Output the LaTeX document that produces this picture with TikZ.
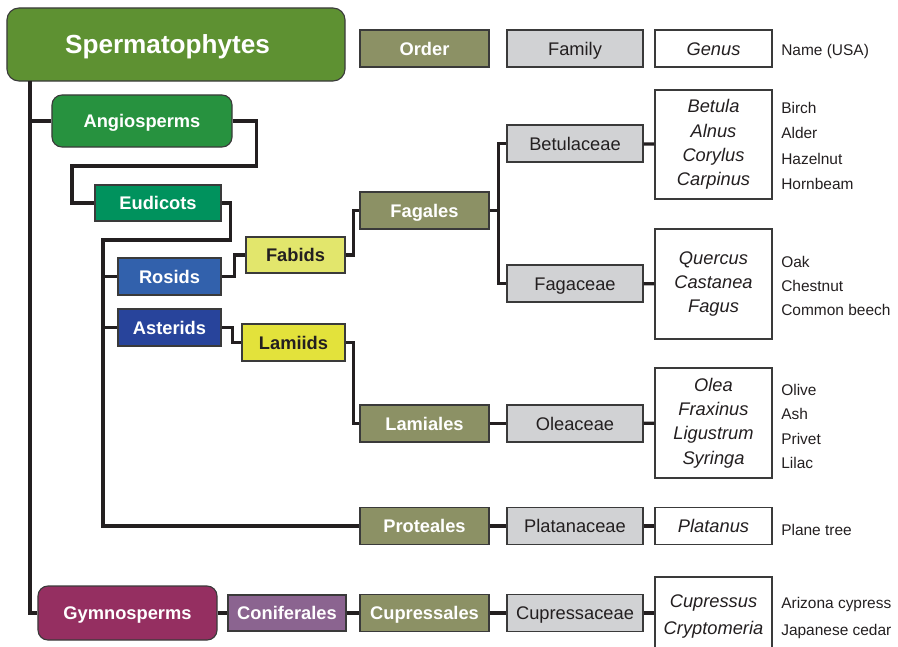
\documentclass[tikz,border=0pt]{standalone}
\usepackage{fontspec}
\setmainfont{Liberation Sans}

\definecolor{spermcol}{HTML}{5E9132}
\definecolor{angiocol}{HTML}{27923F}
\definecolor{eudicol}{HTML}{00925D}
\definecolor{rosidcol}{HTML}{3261AC}
\definecolor{astercol}{HTML}{28449B}
\definecolor{fabidcol}{HTML}{E2E66C}
\definecolor{lamiidcol}{HTML}{E3E23B}
\definecolor{ordcol}{HTML}{8C9165}
\definecolor{famcol}{HTML}{D1D2D4}
\definecolor{gymnocol}{HTML}{952F61}
\definecolor{conifcol}{HTML}{8B6490}
\definecolor{linecol}{HTML}{231F20}
\definecolor{boxline}{HTML}{3A3A3A}

\tikzset{
  box/.style={draw=boxline, line width=0.8pt, inner sep=0pt, align=center,
    text=linecol, font=\fontsize{13}{15}\selectfont},
  oneline/.style={text height=9.3pt, text depth=0pt},
  clade/.style={box, oneline, text=white, font=\fontsize{13}{15}\selectfont\bfseries},
  ordbox/.style={clade, fill=ordcol, minimum width=3.225cm, minimum height=0.925cm},
  fambox/.style={box, oneline, fill=famcol, minimum width=3.4cm, minimum height=0.925cm},
  genbox/.style={box, fill=white, minimum width=2.925cm,
    font=\fontsize{13}{17.4}\selectfont\itshape},
  usname/.style={anchor=west, inner sep=0pt, align=left, text=linecol,
    font=\fontsize{11}{17.5}\selectfont},
  link/.style={draw=linecol, line width=2.3pt},
}

\begin{document}
\begin{tikzpicture}[x=0.025cm, y=-0.025cm]
\useasboundingbox (0,0) rectangle (898,646);

% header row
\node[clade, fill=spermcol, rounded corners=0.3cm, minimum width=8.45cm, minimum height=1.825cm,
  text height=13.3pt, font=\fontsize{18.6}{22}\selectfont\bfseries] (sperm) at (176,44.5) {Spermatophytes\hspace*{12pt}};
\node[ordbox] (order) at (424.5,48.5) {Order};
\node[fambox] (family) at (575,48.5) {Family};
\node[genbox, oneline, minimum height=0.925cm] (genus) at (713.5,48.5) {Genus};
\node[usname] (usa) at (781,51) {Name (USA)};

% clades
\node[clade, fill=angiocol, rounded corners=0.25cm, minimum width=4.5cm, minimum height=1.3cm] (angio) at (142,121) {Angiosperms};
\node[clade, fill=eudicol, minimum width=3.15cm, minimum height=0.9cm] (eudi) at (158,203) {Eudicots};
\node[clade, fill=rosidcol, minimum width=2.575cm, minimum height=0.925cm] (rosids) at (169.5,276.5) {Rosids};
\node[clade, fill=astercol, minimum width=2.575cm, minimum height=0.925cm] (asterids) at (169.5,327.5) {Asterids};
\node[clade, fill=fabidcol, text=linecol, minimum width=2.475cm, minimum height=0.9cm] (fabids) at (295.5,255) {Fabids};
\node[clade, fill=lamiidcol, text=linecol, minimum width=2.575cm, minimum height=0.925cm] (lamiids) at (293.5,342.5) {Lamiids};
\node[clade, fill=gymnocol, rounded corners=0.25cm, minimum width=4.475cm, minimum height=1.35cm] (gymno) at (127.5,613) {Gymnosperms};
\node[clade, fill=conifcol, minimum width=2.95cm, minimum height=0.9cm] (conif) at (287,613) {Coniferales};

% orders
\node[ordbox] (fagales) at (424.5,210.5) {Fagales};
\node[ordbox] (lamiales) at (424.5,423.5) {Lamiales};
\node[ordbox] (proteales) at (424.5,526) {Proteales};
\node[ordbox] (cupressales) at (424.5,613) {Cupressales};

% families
\node[fambox] (betul) at (575,143.5) {Betulaceae};
\node[fambox] (fagac) at (575,283.5) {Fagaceae};
\node[fambox] (oleac) at (575,423.5) {Oleaceae};
\node[fambox] (platac) at (575,526) {Platanaceae};
\node[fambox] (cupac) at (575,613) {Cupressaceae};

% genera
\node[genbox, minimum height=2.725cm] (betulgen) at (713.5,144.5) {Betula\\Alnus\\Corylus\\Carpinus};
\node[genbox, minimum height=2.75cm] (fagacgen) at (713.5,284) {Quercus\\Castanea\\Fagus};
\node[genbox, minimum height=2.75cm] (oleacgen) at (713.5,423) {Olea\\Fraxinus\\Ligustrum\\Syringa};
\node[genbox, oneline, minimum height=0.925cm] (platgen) at (713.5,526) {Platanus};
\node[genbox, minimum height=1.975cm, font=\fontsize{13}{19}\selectfont\itshape] (cupgen) at (713.5,616.5) {Cupressus\\Cryptomeria};

% names
\node[usname, font=\fontsize{11}{18}\selectfont] (betulnm) at (781,146) {Birch\\Alder\\Hazelnut\\Hornbeam};
\node[usname, font=\fontsize{11}{17}\selectfont] (fagacnm) at (781,286) {Oak\\Chestnut\\Common beech};
\node[usname, font=\fontsize{11}{17.2}\selectfont] (oleacnm) at (781,426.5) {Olive\\Ash\\Privet\\Lilac};
\node[usname] (platnm) at (781,530) {Plane tree};
\node[usname, font=\fontsize{11}{19.8}\selectfont] (cupnm) at (781,618) {Arizona cypress\\Japanese cedar};

% connectors
\coordinate (trunk) at (30,81);
\coordinate (eutrunk) at (103,240);
\draw[link] (trunk) |- (gymno.west);
\draw[link] (angio.west) -- (angio.west -| trunk);
\draw[link] (angio.east) -- ++(24,0) |- (72,166) |- (eudi.west);
\draw[link] (eudi.east) -- ++(9,0) |- (eutrunk) |- (proteales.west);
\draw[link] (rosids.west) -- (rosids.west -| eutrunk);
\draw[link] (asterids.west) -- (asterids.west -| eutrunk);
\draw[link] (rosids.east) -- ++(13,0) |- (fabids.west);
\draw[link] (asterids.east) -- ++(11,0) |- (lamiids.west);
\draw[link] (fabids.east) -- ++(8,0) |- (fagales.west);
\draw[link] (fagales.east) -- ++(9,0) |- (betul.west);
\draw[link] (fagales.east) -- ++(9,0) |- (fagac.west);
\draw[link] (lamiids.east) -- ++(8,0) |- (lamiales.west);
\draw[link] (betul) -- (betulgen);
\draw[link] (fagac) -- (fagacgen);
\draw[link] (lamiales) -- (oleac);
\draw[link] (oleac) -- (oleacgen);
\draw[link] (proteales) -- (platac);
\draw[link] (platac) -- (platgen);
\draw[link] (gymno) -- (conif);
\draw[link] (conif) -- (cupressales);
\draw[link] (cupressales) -- (cupac);
\draw[link] (cupac.east) -- (cupac.east -| cupgen.west);
\end{tikzpicture}
\end{document}
